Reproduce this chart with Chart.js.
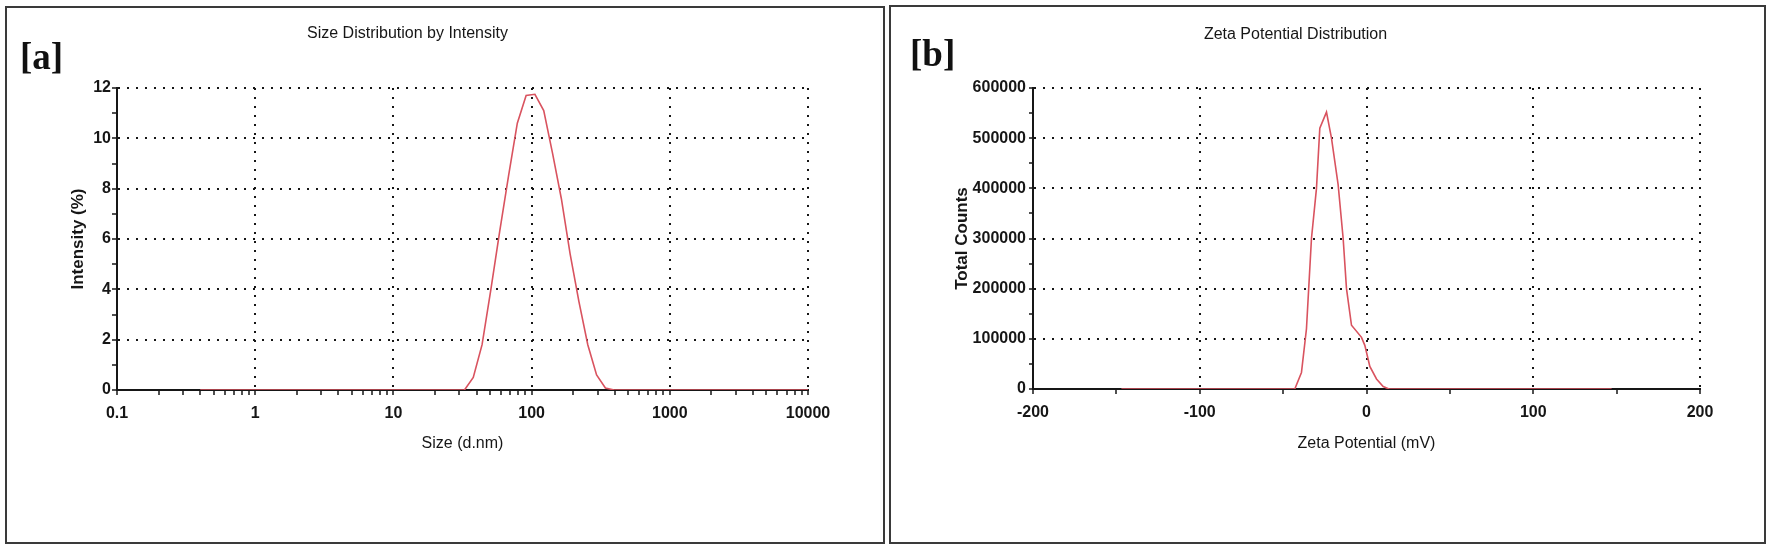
<!DOCTYPE html>
<html>
<head>
<meta charset="utf-8">
<script src="https://cdn.jsdelivr.net/npm/chart.js@4.4.1/dist/chart.umd.min.js"></script>
<style>
    html, body { margin: 0; padding: 0; background: #fff; }
    body { width: 1772px; height: 546px; position: relative; overflow: hidden; }
    .panel { position: absolute; box-sizing: border-box; border: 2px solid #3a3a3a; background: #fff; }
    .panel canvas { position: absolute; left: 0; top: 0; }
    .etiqueta { position: absolute; z-index: 2; font-family: "Liberation Serif", "Times New Roman", serif; font-weight: bold; font-size: 37px; line-height: 1; color: #111; }
</style>
</head>
<body>
<div class="panel" style="left:5px; top:6px; width:880px; height:538px;">
    <canvas id="graficaTamano" width="876" height="534"></canvas>
</div>
<div class="etiqueta" style="left:20px; top:38px;">[a]</div>

<div class="panel" style="left:889px; top:5px; width:877px; height:539px;">
    <canvas id="graficaZeta" width="873" height="535"></canvas>
</div>
<div class="etiqueta" style="left:910px; top:35px;">[b]</div>

<script>
// Datos
const tamanos = [0.4, 1, 10, 28.21, 32.67, 37.84, 43.82, 50.75, 58.77, 68.06, 78.82, 91.28, 105.7, 122.4, 141.8, 164.2, 190.1, 220.2, 255.0, 295.3, 342.0, 396.1, 458.7, 1000, 10000];
const intensidad = [0, 0, 0, 0, 0, 0.5, 1.8, 4.0, 6.3, 8.5, 10.6, 11.7, 11.75, 11.1, 9.4, 7.6, 5.4, 3.5, 1.8, 0.6, 0.08, 0, 0, 0, 0];

const potencialZeta = [-147, -43, -39, -36, -33, -30, -28, -24, -21, -17, -14, -12, -9, -3, -1, 2, 6, 10, 13.5, 147];
const cuentasTotales = [0, 0, 33000, 120000, 300000, 400000, 520000, 552000, 500000, 407000, 300000, 200000, 127000, 103000, 87000, 45000, 20000, 5000, 0, 0];

// Etiquetas de los ejes
const decadasX = [0.1, 1, 10, 100, 1000, 10000];
const etiquetasXa = ["0.1", "1", "10", "100", "1000", "10000"];
const etiquetasYa = ["0", "2", "4", "6", "8", "10", "12"];
const etiquetasXb = ["-200", "-100", "0", "100", "200"];
const etiquetasYb = ["0", "100000", "200000", "300000", "400000", "500000", "600000"];

const FUENTE = "'Liberation Sans', Arial, Helvetica, sans-serif";
const NEGRO = "#161616";
const ROJO = "#d9535f";

Chart.defaults.font.family = FUENTE;
Chart.defaults.color = NEGRO;

function gridPunteada(esMayor, tickLength) {
    return {
        color: ctx => (ctx.tick && esMayor(ctx.tick)) ? NEGRO : "rgba(0,0,0,0)",
        lineWidth: 2,
        tickColor: NEGRO,
        tickWidth: 1.5,
        tickLength: tickLength,
        drawTicks: true
    };
}

const bordeEje = { display: true, color: NEGRO, width: 2, dash: [2, 7] };

function generarDataset(puntos) {
    return {
        data: puntos,
        borderColor: ROJO,
        borderWidth: 1.6,
        pointRadius: 0,
        showLine: true,
        fill: false,
        tension: 0
    };
}

function crearGraficoTamano() {
    const ctx = document.getElementById("graficaTamano").getContext("2d");
    const puntos = tamanos.map((x, i) => ({ x, y: intensidad[i] }));

    new Chart(ctx, {
        type: "scatter",
        data: { datasets: [generarDataset(puntos)] },
        options: {
            responsive: false,
            animation: false,
            devicePixelRatio: 1,
            layout: { padding: { left: 0, top: 0, right: 75, bottom: 72 } },
            plugins: {
                legend: { display: false },
                tooltip: { enabled: false },
                title: {
                    display: true,
                    text: "Size Distribution by Intensity",
                    font: { size: 16, weight: "normal" },
                    color: NEGRO,
                    padding: { top: 16, bottom: 44.8 }
                }
            },
            scales: {
                x: {
                    type: "logarithmic",
                    min: 0.1,
                    max: 10000,
                    afterBuildTicks: escala => {
                        const ticks = [];
                        decadasX.forEach((d, i) => {
                            ticks.push({ value: d, major: true, texto: etiquetasXa[i] });
                            if (i < decadasX.length - 1) {
                                for (let k = 2; k <= 9; k++) ticks.push({ value: d * k, major: false, texto: "" });
                            }
                        });
                        escala.ticks = ticks;
                    },
                    afterFit: escala => { escala.height = 80; },
                    ticks: {
                        autoSkip: false,
                        maxRotation: 0,
                        minRotation: 0,
                        padding: 9,
                        font: { size: 16, weight: "bold" },
                        callback: (valor, i, ticks) => ticks[i].texto
                    },
                    grid: gridPunteada(t => t.major, 5),
                    border: bordeEje,
                    title: {
                        display: true,
                        text: "Size (d.nm)",
                        font: { size: 16, weight: "normal" },
                        padding: { top: 0, bottom: 17 }
                    }
                },
                y: {
                    min: 0,
                    max: 12,
                    afterFit: escala => { escala.width = 110; },
                    ticks: {
                        stepSize: 1,
                        autoSkip: false,
                        padding: 1,
                        font: { size: 16, weight: "bold" },
                        callback: v => (v % 2 === 0 ? etiquetasYa[v / 2] : "")
                    },
                    grid: gridPunteada(t => t.value % 2 === 0, 5),
                    border: bordeEje,
                    title: {
                        display: true,
                        text: "Intensity (%)",
                        font: { size: 17, weight: "bold" },
                        padding: { top: 60.8, bottom: 0 }
                    }
                }
            }
        }
    });
}

function crearGraficoZeta() {
    const ctx = document.getElementById("graficaZeta").getContext("2d");
    const puntos = potencialZeta.map((x, i) => ({ x, y: cuentasTotales[i] }));

    new Chart(ctx, {
        type: "scatter",
        data: { datasets: [generarDataset(puntos)] },
        options: {
            responsive: false,
            animation: false,
            devicePixelRatio: 1,
            layout: { padding: { left: 0, top: 0, right: 64, bottom: 73 } },
            plugins: {
                legend: { display: false },
                tooltip: { enabled: false },
                title: {
                    display: true,
                    text: "Zeta Potential Distribution",
                    font: { size: 16, weight: "normal" },
                    color: NEGRO,
                    padding: { top: 18, bottom: 43.8 }
                }
            },
            scales: {
                x: {
                    type: "linear",
                    min: -200,
                    max: 200,
                    afterFit: escala => { escala.height = 80; },
                    ticks: {
                        stepSize: 50,
                        autoSkip: false,
                        maxRotation: 0,
                        minRotation: 0,
                        padding: 9,
                        font: { size: 16, weight: "bold" },
                        callback: v => (v % 100 === 0 ? etiquetasXb[(v + 200) / 100] : "")
                    },
                    grid: gridPunteada(t => t.value % 100 === 0, 5),
                    border: bordeEje,
                    title: {
                        display: true,
                        text: "Zeta Potential (mV)",
                        font: { size: 16, weight: "normal" },
                        padding: { top: 0, bottom: 15.5 }
                    }
                },
                y: {
                    min: 0,
                    max: 600000,
                    afterFit: escala => { escala.width = 142; },
                    ticks: {
                        stepSize: 50000,
                        autoSkip: false,
                        padding: 3,
                        font: { size: 16, weight: "bold" },
                        callback: v => (v % 100000 === 0 ? etiquetasYb[v / 100000] : "")
                    },
                    grid: gridPunteada(t => t.value % 100000 === 0, 4),
                    border: bordeEje,
                    title: {
                        display: true,
                        text: "Total Counts",
                        font: { size: 17, weight: "bold" },
                        padding: { top: 60.8, bottom: 0 }
                    }
                }
            }
        }
    });
}

document.addEventListener("DOMContentLoaded", () => {
    crearGraficoTamano();
    crearGraficoZeta();
});
</script>
</body>
</html>
